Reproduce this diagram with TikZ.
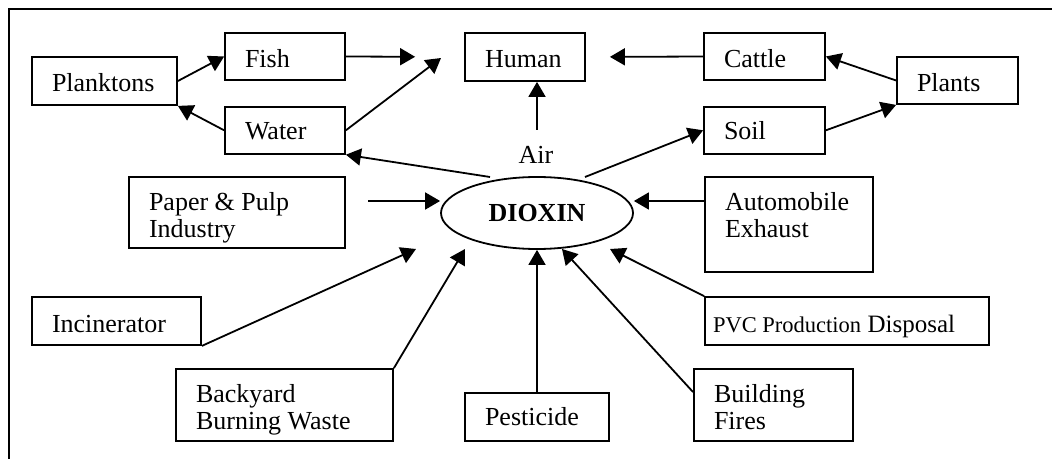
\documentclass[tikz,border=0pt]{standalone}
\usepackage{fontspec}
\setmainfont{Liberation Serif}
\usetikzlibrary{shapes.geometric}
\usetikzlibrary{positioning}
\usetikzlibrary{arrows.meta}

\begin{document}
\begin{tikzpicture}[x=0.5pt, y=-0.5pt,
  tbox/.style={draw, rectangle, line width=0.9pt, align=left, text width=#1,
    inner xsep=10pt, inner ysep=0pt, text height=11pt, text depth=0pt,
    font=\fontsize{13}{13.5}\selectfont,
    execute at begin node={\spaceskip=0pt\xspaceskip=0pt\rightskip=0pt plus 1fil\relax}},
  dio/.style={draw, ellipse, line width=0.9pt, minimum width=96pt, minimum height=36pt,
    inner sep=0pt, font=\fontsize{13}{13.5}\selectfont\bfseries},
  arr/.style={line width=0.9pt, -{Triangle[length=7.5pt,width=8.5pt]}}]
    \useasboundingbox (0,0) rectangle (1052,459);
    \draw[line width=0.9pt] (1060,9) -- (9,9) -- (9,470);

    % top row
    \node[tbox=52.5pt, minimum height=24pt] (plank) at (104.5,81) {Planktons};
    \node[tbox=40pt, minimum height=23.5pt] (fish) at (285,56.5) {Fish};
    \node[tbox=40pt, minimum height=23.5pt, text height=9.5pt] (water) [below=12.5pt of fish] {Water};
    \node[tbox=40pt, minimum height=24pt] (human) at (525,57) {Human};
    \node[tbox=40.5pt, minimum height=23.5pt] (cattle) at (764.5,56.5) {Cattle};
    \node[tbox=40.5pt, minimum height=23.5pt, text height=9.5pt] (soil) [below=12.5pt of cattle] {Soil};
    \node[tbox=40.5pt, minimum height=23.5pt] (plants) at (957.5,80.5) {Plants};

    \node[dio] (dioxin) at (537,213) {DIOXIN};
    \node[inner sep=0pt, font=\fontsize{13}{13.5}\selectfont] (air) at (536,155) {Air};

    % sources
    \node[tbox=88pt, minimum height=35.5pt, text depth=12.5pt] (paper) at (237,212.5) {Paper \& Pulp\\Industry};
    \node[tbox=64pt, minimum height=47.5pt, text depth=24.5pt] (auto) at (789,224.5) {Automobile\\Exhaust};
    \node[tbox=64.5pt, minimum height=24pt] (incin) at (116.5,321) {Incinerator};
    \node[tbox=134pt, inner xsep=4pt, minimum height=24pt] (pvc) at (847,321)
        {{\fontsize{11.25}{13.5}\selectfont PVC Production} {\fontsize{12.5}{13.5}\selectfont Disposal}};
    \node[tbox=88.5pt, minimum height=36pt, text depth=14pt] (yard) at (284.5,405) {Backyard\\Burning Waste};
    \node[tbox=52pt, minimum height=24pt, text height=8pt] (pest) at (537,417) {Pesticide};
    \node[tbox=59.5pt, minimum height=36pt, text depth=14pt] (fires) at (773.5,405) {Building\\Fires};

    \coordinate (waterTip) at (441,58);
    \coordinate (airUp) at (537,130);
    \coordinate (toWater) at (490,177);
    \coordinate (toSoil) at (585,177);
    \coordinate (fromPaper) at (368,201);
    \coordinate (tipIncin) at (416,249);
    \coordinate (tipYard) at (465,249);
    \coordinate (tipFires) at (562,249);
    \coordinate (tipPVC) at (610,249);

    \draw[arr] (plank.east) -- (fish.west);
    \draw[arr] (water.west) -- (plank.south east);
    \draw[arr, shorten >=24.5pt] (fish.east) -- (human.west);
    \draw[arr] (water.east) -- (waterTip);
    \draw[arr] (airUp) -- (airUp |- human.south);
    \draw[arr, shorten >=12pt] (cattle.west) -- (human.east);
    \draw[arr] (plants.west) -- (cattle.east);
    \draw[arr] (soil.east) -- (plants.south west);
    \draw[arr] (toWater) -- (water.south east);
    \draw[arr] (toSoil) -- (soil.west);
    \draw[arr] (fromPaper) -- (fromPaper -| dioxin.west);
    \draw[arr] (auto.west |- fromPaper) -- (dioxin.east |- fromPaper);
    \draw[arr] (incin.south east) -- (tipIncin);
    \draw[arr] (yard.north east) -- (tipYard);
    \draw[arr] (pest.north) -- (dioxin.south);
    \draw[arr] (fires.west |- pest.north) -- (tipFires);
    \draw[arr] (pvc.north west) -- (tipPVC);
\end{tikzpicture}
\end{document}
